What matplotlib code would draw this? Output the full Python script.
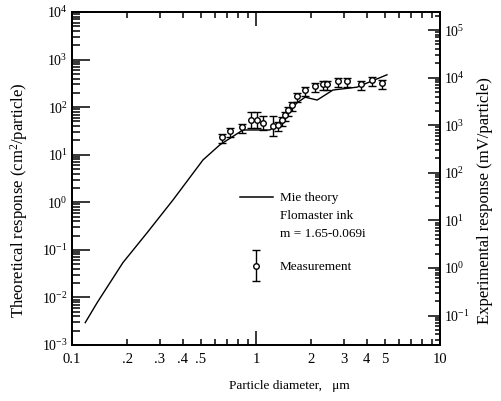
import matplotlib
matplotlib.use("Agg")
import matplotlib.pyplot as plt
from matplotlib.lines import Line2D
from matplotlib.ticker import FixedLocator, FixedFormatter, LogLocator, LogFormatterMathtext, NullFormatter
from matplotlib.container import ErrorbarContainer
from matplotlib.legend_handler import HandlerErrorbar

plt.rcParams['font.family'] = ['Liberation Serif', 'DejaVu Serif']
plt.rcParams['mathtext.fontset'] = 'custom'
plt.rcParams['mathtext.rm'] = 'Liberation Serif'
plt.rcParams['mathtext.it'] = 'Liberation Serif:italic'

# ---- Data ----
# Mie theory curve (left axis, cm^2/particle)
mie_d = [0.118, 0.137, 0.189, 0.256, 0.354, 0.515, 0.637, 0.849, 1.19, 1.30,
         1.67, 1.85, 2.15, 2.62, 3.54, 5.15]
mie_resp = [0.00295, 0.00776, 0.0537, 0.229, 1.12, 7.76, 16.2, 33.1, 33.1, 42.7,
            123, 162, 141, 229, 263, 479]

# Measurements (right axis, mV/particle)
meas_d = [0.652, 0.723, 0.836, 0.945, 1.009, 1.096, 1.24, 1.32, 1.38, 1.44, 1.50,
          1.56, 1.68, 1.85, 2.09, 2.30, 2.44, 2.80, 3.11, 3.71, 4.29, 4.85]
meas_resp = [575, 752, 912, 1280, 1312, 1117, 977, 1023, 1290, 1660, 2130,
             2700, 4170, 5600, 6600, 7460, 7460, 8360, 8360, 7460, 9080, 7740]
# multiplicative error factors (upper / lower)
err_up = [1.16, 1.16, 1.16, 1.47, 1.47, 1.40, 1.62, 1.16, 1.16, 1.16, 1.16,
          1.16, 1.16, 1.16, 1.16, 1.16, 1.16, 1.16, 1.16, 1.16, 1.16, 1.16]
err_dn = [1.34, 1.34, 1.34, 1.47, 1.47, 1.40, 1.62, 1.34, 1.34, 1.34, 1.34,
          1.34, 1.34, 1.34, 1.34, 1.34, 1.34, 1.34, 1.34, 1.34, 1.34, 1.34]

x_major = [0.1, 1, 10]
x_major_labels = ['0.1', '1', '10']
x_minor = [0.2, 0.3, 0.4, 0.5, 0.6, 0.7, 0.8, 0.9, 2, 3, 4, 5, 6, 7, 8, 9]
x_minor_labels = ['.2', '.3', '.4', '.5', '', '', '', '', '2', '3', '4', '5', '', '', '', '']
left_ticks = [1e-3, 1e-2, 1e-1, 1e0, 1e1, 1e2, 1e3, 1e4]
right_ticks = [1e-1, 1e0, 1e1, 1e2, 1e3, 1e4, 1e5]

legend_labels = ['Mie theory', 'Flomaster ink', 'm = 1.65-0.069i']
meas_label = 'Measurement'

# ---- Figure ----
fig = plt.figure(figsize=(5.01, 4.01), dpi=100)
ax = fig.add_axes([72/501, 56/401, 368/501, 333/401])
ax.set_xscale('log')
ax.set_yscale('log')
ax.set_xlim(0.1, 10)
ax.set_ylim(1e-3, 1e4)

ax2 = ax.twinx()
ax2.set_yscale('log')
ax2.set_ylim(10**-1.62, 10**5.38)

ax.plot(mie_d, mie_resp, color='black', lw=1.0)

yerr_lo = [v - v / f for v, f in zip(meas_resp, err_dn)]
yerr_hi = [v * f - v for v, f in zip(meas_resp, err_up)]
eb = ax2.errorbar(meas_d, meas_resp, yerr=[yerr_lo, yerr_hi], fmt='o', ms=4,
                  mfc='white', mec='black', mew=1.0, ecolor='black',
                  elinewidth=1.0, capsize=2.8, capthick=1.0)

# x ticks
ax.xaxis.set_major_locator(FixedLocator(x_major))
ax.xaxis.set_major_formatter(FixedFormatter(x_major_labels))
ax.xaxis.set_minor_locator(FixedLocator(x_minor))
ax.xaxis.set_minor_formatter(FixedFormatter(x_minor_labels))
ax.tick_params(axis='x', which='both', direction='in', top=True, bottom=True,
               labelsize=10.5, pad=6, width=1.1)
ax.tick_params(axis='x', which='major', length=10)
ax.tick_params(axis='x', which='minor', length=4.5)

# left y ticks
ax.yaxis.set_major_locator(FixedLocator(left_ticks))
ax.yaxis.set_minor_locator(LogLocator(base=10, subs=range(2, 10), numticks=20))
ax.yaxis.set_major_formatter(LogFormatterMathtext())
ax.yaxis.set_minor_formatter(NullFormatter())
ax.tick_params(axis='y', which='both', direction='in', left=True, right=False,
               labelsize=10, pad=3, width=1.1)
ax.tick_params(axis='y', which='major', length=13)
ax.tick_params(axis='y', which='minor', length=5.5)

# right y ticks
ax2.yaxis.set_major_locator(FixedLocator(right_ticks))
ax2.yaxis.set_minor_locator(LogLocator(base=10, subs=range(2, 10), numticks=20))
ax2.yaxis.set_major_formatter(LogFormatterMathtext())
ax2.yaxis.set_minor_formatter(NullFormatter())
ax2.tick_params(axis='y', which='both', direction='in', right=True, left=False,
                labelsize=10, pad=3, width=1.1)
ax2.tick_params(axis='y', which='major', length=8.5)
ax2.tick_params(axis='y', which='minor', length=3.8)

for a in (ax, ax2):
    for s in a.spines.values():
        s.set_linewidth(1.3)

ax.set_ylabel('Theoretical response (cm$^2$/particle)', fontsize=12)
ax.yaxis.set_label_coords(-0.115, 0.435)
ax2.set_ylabel('Experimental response (mV/particle)', fontsize=12, rotation=90)
ax2.yaxis.set_label_coords(1.10, 0.435)
ax.set_xlabel('Particle diameter,   μm', fontsize=9.5)
ax.xaxis.set_label_coords(0.59, -0.105)

# legends
mie_handle = Line2D([], [], color='black', lw=1.1)
blank = Line2D([], [], color='none')
leg1 = ax2.legend([mie_handle, blank, blank], legend_labels,
                  loc='upper left', bbox_to_anchor=((240 - 72) / 368, (345 - 192) / 333),
                  frameon=False, fontsize=9.5, handlelength=2.5, handletextpad=0.5,
                  labelspacing=0.42, borderpad=0, borderaxespad=0)
ax2.add_artist(leg1)
leg2 = ax2.legend([eb], [meas_label],
                  loc='center left', bbox_to_anchor=((240 - 72) / 368, (345 - 267) / 333),
                  frameon=False, fontsize=9.5, handlelength=2.5, handletextpad=0.5,
                  borderpad=0, borderaxespad=0,
                  handler_map={ErrorbarContainer: HandlerErrorbar(xerr_size=0.3, yerr_size=1.2)})

fig.savefig('out.png', dpi=100)
